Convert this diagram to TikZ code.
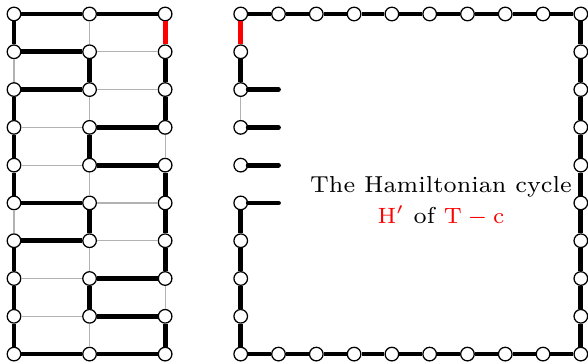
\documentclass[tikz,border=0pt]{standalone}
\usepackage{amsmath, amssymb}
\usepackage{tikz}
\usetikzlibrary{positioning}

\tikzset{
  vtx/.style={circle, draw, thin, fill=white, inner sep=0pt, minimum size=4.3pt},
  grid edge/.style={thin, gray!60},
  hc edge/.style={line width=1.5pt},
  del edge/.style={line width=1.5pt, red}
}

\begin{document}
\begin{tikzpicture}[x=0.42cm, y=0.42cm]
  \useasboundingbox (-0.37,-0.185) rectangle (15.19,9.37);
  % the 3 x 10 grid T, rows counted from the top
  \foreach \r in {0,...,9}
    \foreach \c in {0,1,2}
      \node[vtx] (g-\r-\c) at (2*\c, 9-\r) {};
  % all grid edges, thin
  \foreach \r in {0,...,9}
    \foreach \c [count=\nc] in {0,1}
      \draw[grid edge] (g-\r-\c) -- (g-\r-\nc);
  \foreach \r [count=\nr] in {0,...,8}
    \foreach \c in {0,1,2}
      \draw[grid edge] (g-\r-\c) -- (g-\nr-\c);
  % Hamiltonian cycle: horizontal, then vertical edges
  \foreach \r/\c in {0/0,0/1,1/0,2/0,3/1,4/1,5/0,6/0,7/1,8/1,9/0,9/1} {
    \pgfmathtruncatemacro{\nc}{\c+1}
    \draw[hc edge] (g-\r-\c) -- (g-\r-\nc);
  }
  \foreach \r/\c in {0/0,1/1,1/2,2/0,2/2,3/0,3/1,4/0,4/2,5/1,5/2,6/0,6/2,7/0,7/1,8/0,8/2} {
    \pgfmathtruncatemacro{\nr}{\r+1}
    \draw[hc edge] (g-\r-\c) -- (g-\nr-\c);
  }
  \draw[del edge] (g-0-2) -- (g-1-2);

  % the cycle H' as a big boundary
  \foreach \x in {6,...,15} {
    \node[vtx] (p-\x-9) at (\x,9) {};
    \node[vtx] (p-\x-0) at (\x,0) {};
  }
  \foreach \y in {1,...,8} {
    \node[vtx] (p-6-\y) at (6,\y) {};
    \node[vtx] (p-15-\y) at (15,\y) {};
  }
  \foreach \x [count=\nx from 7] in {6,...,14} {
    \draw[hc edge] (p-\x-9) -- (p-\nx-9);
    \draw[hc edge] (p-\x-0) -- (p-\nx-0);
  }
  \foreach \y [count=\ny] in {0,...,8}
    \draw[hc edge] (p-15-\y) -- (p-15-\ny);
  \foreach \y in {0,1,2,3,7} {
    \pgfmathtruncatemacro{\ny}{\y+1}
    \draw[hc edge] (p-6-\y) -- (p-6-\ny);
  }
  \draw[grid edge] (p-6-6) -- (p-6-7);
  \draw[del edge] (p-6-8) -- (p-6-9);
  % open ends
  \foreach \y in {4,5,6,7} {
    \coordinate (s-\y) at (7,\y);
    \draw[hc edge, line cap=round] (p-6-\y) -- (s-\y);
  }

  \node[font=\fontsize{7.3}{8.8}\selectfont, align=center] (label) at (11.3,4.04)
    {The Hamiltonian cycle\\[1pt] \textcolor{red}{$\mathrm{H'}$} of \textcolor{red}{$\mathrm{T-c}$}};
\end{tikzpicture}
\end{document}
